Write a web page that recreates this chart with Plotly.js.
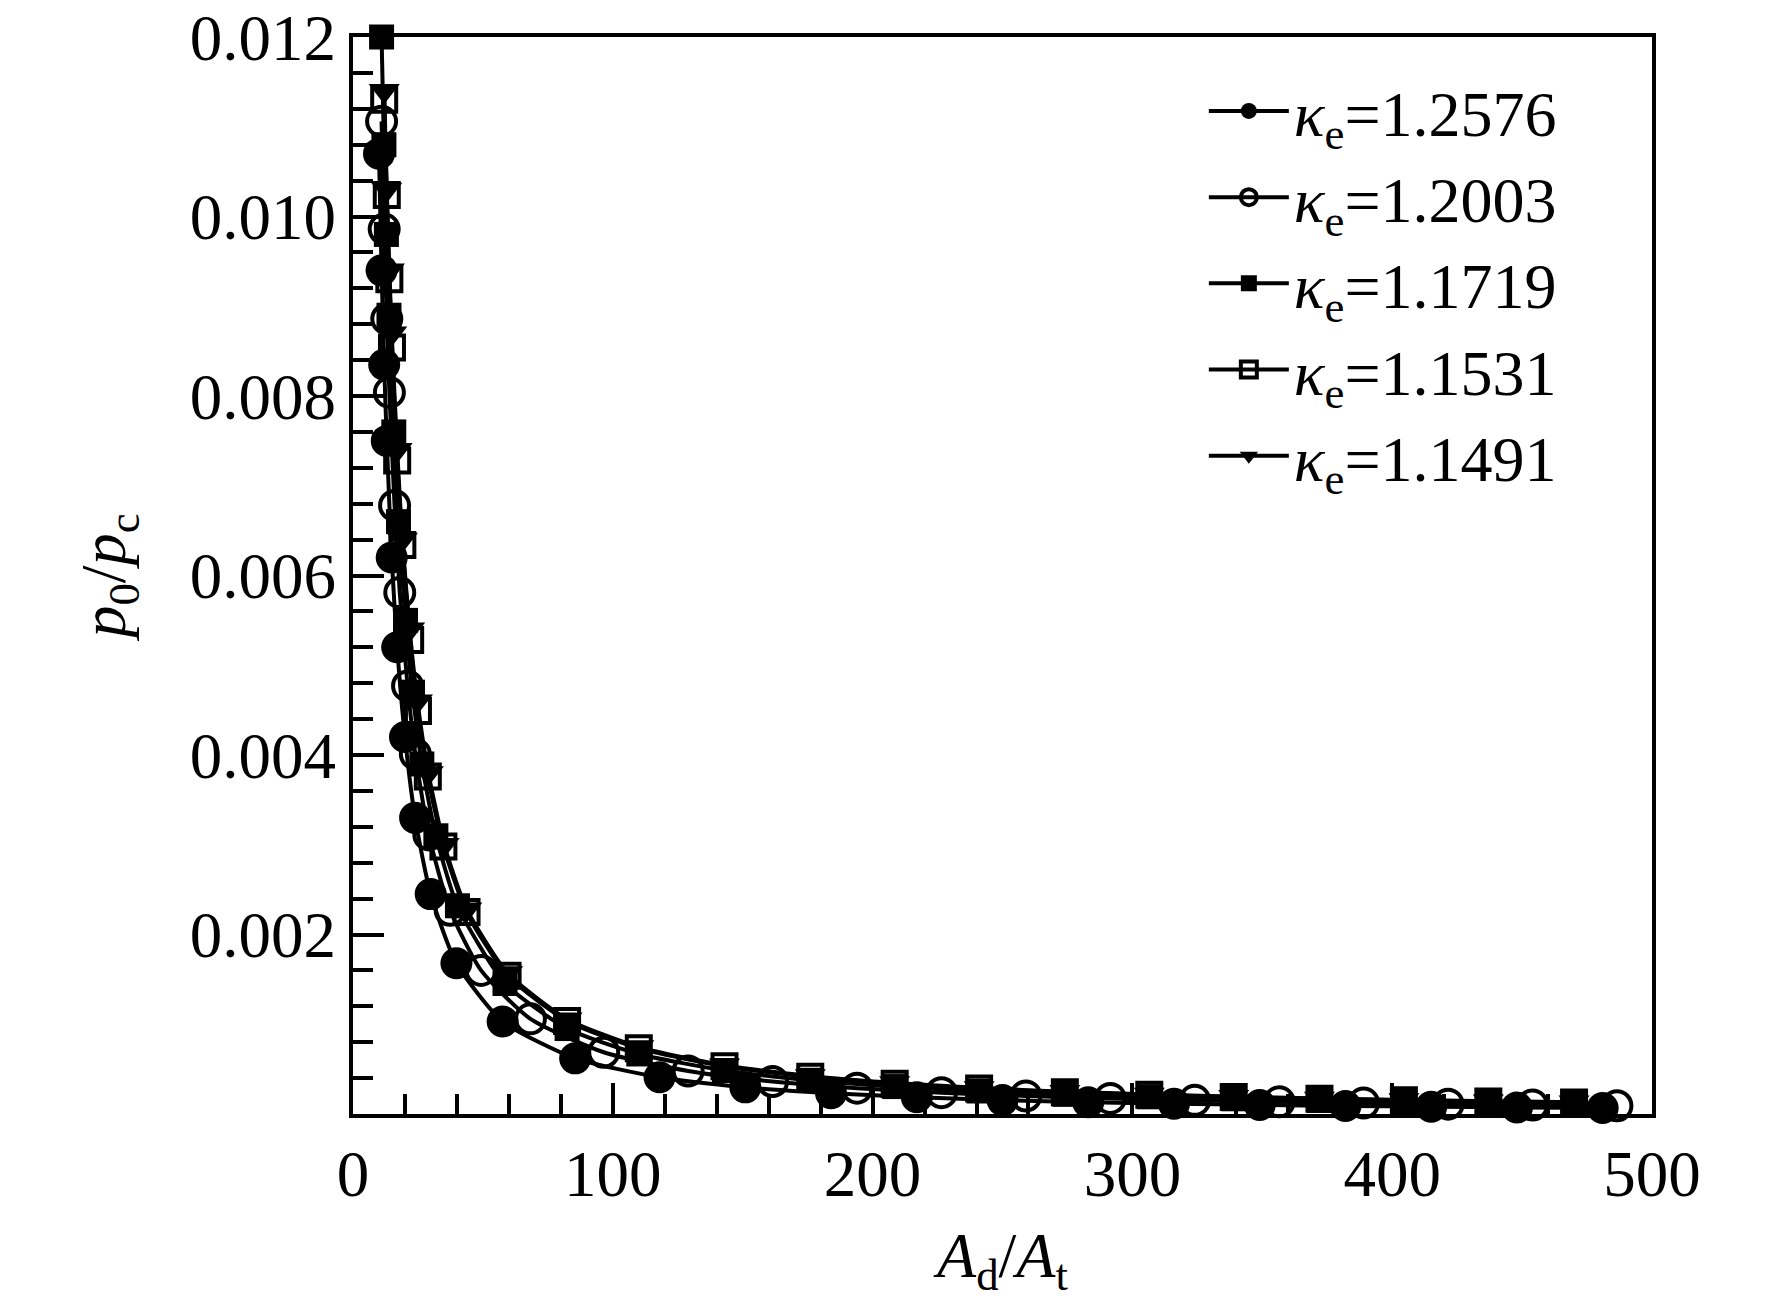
<!DOCTYPE html>
<html>
<head>
<meta charset="utf-8">
<script src="https://cdn.plot.ly/plotly-3.0.1.min.js"></script>
<style>
  html, body { margin: 0; padding: 0; background: #fff; }
  #chart { width: 1772px; height: 1300px; }
</style>
</head>
<body>
<div id="chart"></div>
<script>
// kappa_e values for each curve
const kappaLabels = ['1.2576', '1.2003', '1.1719', '1.1531', '1.1491'];

// A_d/A_t and p0/pc, one pair of arrays per curve
const xK1 = [10.0, 11.0, 12.0, 13.0, 14.9, 17.0, 20.0, 23.9, 29.9, 39.8, 57.6, 85.5, 118, 151, 184, 217, 250, 283, 316, 349, 382, 415, 448, 481];
const yK1 = [0.0107, 0.0094, 0.00835, 0.0075, 0.0062, 0.0052, 0.0042, 0.0033, 0.00245, 0.00168, 0.00103, 0.00062, 0.000409, 0.000297, 0.000231, 0.000187, 0.000155, 0.000132, 0.000115, 0.000101, 0.0000897, 0.0000806, 0.000073, 0.0000664];

const xK2 = [11.0, 12.0, 13.0, 14.0, 16.0, 18.0, 21.0, 24.0, 29.2, 37.4, 49.3, 68.3, 96.5, 129, 161.5, 194, 226.5, 259, 291.5, 324, 356.5, 389, 421.5, 454, 486.5];
const yK2 = [0.01106, 0.00986, 0.00886, 0.00804, 0.00678, 0.00581, 0.00477, 0.00401, 0.00311, 0.00227, 0.0016, 0.00106, 0.000688, 0.000479, 0.000362, 0.000288, 0.0002375, 0.000201, 0.0001736, 0.0001523, 0.0001353, 0.0001214, 0.0001098, 0.0001001, 0.0000919];

const xK3 = [11.0, 11.9, 12.85, 13.85, 15.7, 17.5, 20.2, 22.9, 26.5, 31.9, 40.2, 58.5, 82.4, 110, 143, 176, 208.5, 241, 274, 306.5, 339, 372, 404.5, 437, 470];
const yK3 = [0.012, 0.0108, 0.0098, 0.0089, 0.0076, 0.0066, 0.0055, 0.0047, 0.0039, 0.0031, 0.00232, 0.001454, 0.000952, 0.000669, 0.000485, 0.000376, 0.0003056, 0.0002563, 0.0002194, 0.0001915, 0.0001694, 0.0001514, 0.0001368, 0.0001246, 0.0001141];

const xK4 = [12.0, 13.0, 14.0, 15.0, 17.0, 19.0, 22.0, 25.0, 28.8, 34.8, 43.7, 59.5, 82.4, 110, 143, 176, 208.5, 241, 274, 306.5, 339, 372, 404.5, 437, 470];
const yK4 = [0.0113, 0.01024, 0.0093, 0.00854, 0.00728, 0.00634, 0.00528, 0.00449, 0.00376, 0.00298, 0.00225, 0.00154, 0.001037, 0.000732, 0.000533, 0.000415, 0.000338, 0.000284, 0.0002437, 0.0002131, 0.0001889, 0.000169, 0.0001529, 0.0001394, 0.0001278];

const xK5 = [12.0, 13.0, 14.0, 14.9, 17.0, 19.0, 21.8, 24.8, 29.0, 35.1, 43.8, 59.5, 82.4, 110, 143, 176, 208.5, 241, 274, 306.5, 339, 372, 404.5, 437, 470];
const yK5 = [0.0114, 0.0103, 0.0094, 0.0087, 0.0074, 0.0064, 0.0054, 0.0046, 0.0038, 0.003, 0.00228, 0.00157, 0.001056, 0.000746, 0.000544, 0.000424, 0.0003455, 0.00029, 0.0002491, 0.000218, 0.0001933, 0.0001731, 0.0001566, 0.0001428, 0.000131];

const xTickVals = [0, 100, 200, 300, 400, 500];
const yTickVals = [0.002, 0.004, 0.006, 0.008, 0.010, 0.012];

const FONT = '"Liberation Serif", "Times New Roman", serif';

function curve(x, y, label, symbol, size) {
  const open = symbol.endsWith('-open');
  return {
    x: x,
    y: y,
    name: '<i>κ</i><sub>e</sub>=' + label,
    type: 'scatter',
    mode: 'lines+markers',
    cliponaxis: false,
    line: { color: '#000', width: 4, shape: 'spline', smoothing: 0.6 },
    marker: {
      symbol: symbol,
      size: size,
      color: '#000',
      line: { color: '#000', width: open ? 4 : 0 }
    }
  };
}

const traces = [
  curve(xK1, yK1, kappaLabels[0], 'circle', 32),
  curve(xK2, yK2, kappaLabels[1], 'circle-open', 29),
  curve(xK3, yK3, kappaLabels[2], 'square', 25),
  curve(xK4, yK4, kappaLabels[3], 'square-open', 24),
  curve(xK5, yK5, kappaLabels[4], 'triangle-down', 27),
];

const axisCommon = {
  showline: true,
  mirror: true,
  linecolor: '#000',
  linewidth: 4,
  showgrid: false,
  zeroline: false,
  ticks: 'inside',
  tickcolor: '#000',
  tickwidth: 4,
  ticklen: 31,
  tickfont: { family: FONT, size: 65, color: '#000' },
};

const layout = {
  width: 1772,
  height: 1300,
  margin: { l: 353, r: 120, t: 37, b: 186 },
  paper_bgcolor: '#fff',
  plot_bgcolor: '#fff',
  font: { family: FONT, color: '#000' },
  showlegend: true,
  legend: {
    x: 0.655,
    y: 0.976,
    xanchor: 'left',
    yanchor: 'top',
    bgcolor: 'rgba(0,0,0,0)',
    borderwidth: 0,
    itemwidth: 80,
    font: { family: FONT, size: 64, color: '#000' },
    tracegroupgap: 0,
  },
  xaxis: Object.assign({}, axisCommon, {
    range: [0, 500],
    tickvals: xTickVals,
    ticktext: xTickVals.map(String),
    minor: { dtick: 20, tick0: 0, ticks: 'inside', ticklen: 20, tickwidth: 4, tickcolor: '#000' },
    title: {
      text: '<i>A</i><sub>d</sub>/<i>A</i><sub>t</sub>',
      font: { family: FONT, size: 64, color: '#000' },
      standoff: 30,
    },
  }),
  yaxis: Object.assign({}, axisCommon, {
    range: [0, 0.012],
    tickvals: yTickVals,
    ticktext: yTickVals.map(v => v.toFixed(3)),
    minor: { dtick: 0.0004, tick0: 0, ticks: 'inside', ticklen: 20, tickwidth: 4, tickcolor: '#000' },
    title: {
      text: '<i>p</i><sub>0</sub>/<i>p</i><sub>c</sub>',
      font: { family: FONT, size: 64, color: '#000' },
      standoff: 44,
    },
  }),
};

Plotly.newPlot('chart', traces, layout, { displayModeBar: false, staticPlot: true });
</script>
</body>
</html>
